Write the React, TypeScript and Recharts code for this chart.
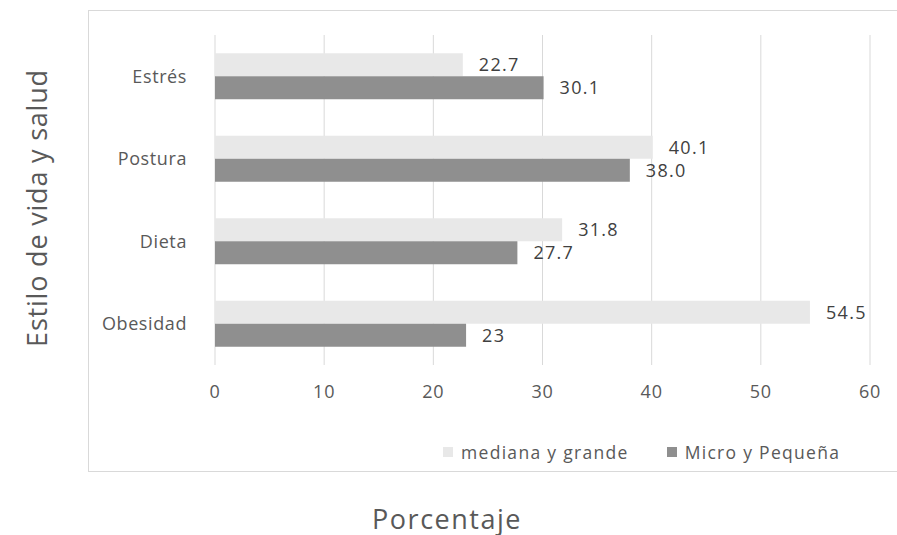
import { BarChart, Bar, XAxis, YAxis, CartesianGrid, LabelList } from "recharts";

const categories = ["Estrés", "Postura", "Dieta", "Obesidad"];
const medianaGrande = [22.7, 40.1, 31.8, 54.5];
const microPequena = [30.1, 38.0, 27.7, 23];
const medianaLabels = ["22.7", "40.1", "31.8", "54.5"];
const microLabels = ["30.1", "38.0", "27.7", "23"];
const xTicks = [0, 10, 20, 30, 40, 50, 60];

const data = categories.map((c, i) => ({
  name: c,
  mediana: medianaGrande[i],
  micro: microPequena[i],
  medianaLabel: medianaLabels[i],
  microLabel: microLabels[i],
}));

const FONT = "'Open Sans', sans-serif";
const TEXT = "#595959";
const LIGHT = "#e8e8e8";
const DARK = "#8f8f8f";

const legendItems = [
  { label: "mediana y grande", color: LIGHT },
  { label: "Micro y Pequeña", color: DARK },
];

function LegendBox() {
  return (
    <div style={{ display: "flex", alignItems: "center", fontSize: 17.5, letterSpacing: 1.3, color: TEXT, fontFamily: FONT }}>
      {legendItems.map((it) => (
        <div key={it.label} style={{ display: "flex", alignItems: "center", marginRight: 38 }}>
          <span style={{ display: "inline-block", width: 10, height: 10, background: it.color, marginRight: 8 }} />
          <span>{it.label}</span>
        </div>
      ))}
    </div>
  );
}

export default function App() {
  return (
    <div style={{ position: "absolute", left: 0, top: 0, width: 897, height: 535, fontFamily: FONT, background: "#fff" }}>
      <div
        style={{
          position: "absolute",
          left: 88,
          top: 10,
          width: 820,
          height: 462,
          border: "1px solid #d9d9d9",
          boxSizing: "border-box",
        }}
      />
      <BarChart
        width={897}
        height={535}
        data={data}
        layout="vertical"
        barGap={0}
        barCategoryGap="22%"
        margin={{ top: 35, right: 27, bottom: 140, left: 100 }}
        style={{ position: "absolute", left: 0, top: 0 }}
      >
        <CartesianGrid horizontal={false} stroke="#d9d9d9" />
        <XAxis
          type="number"
          domain={[0, 60]}
          ticks={xTicks}
          axisLine={false}
          tickLine={false}
          tickMargin={14}
          height={30}
          tick={{ fill: TEXT, fontSize: 18, fontFamily: FONT, letterSpacing: 0.8 }}
        />
        <YAxis
          type="category"
          dataKey="name"
          width={115}
          axisLine={false}
          tickLine={false}
          tickMargin={22}
          tick={{ fill: TEXT, fontSize: 18, fontFamily: FONT, letterSpacing: 0.6 }}
        />
        <Bar dataKey="mediana" name="mediana y grande" fill={LIGHT} isAnimationActive={false}>
          <LabelList dataKey="medianaLabel" position="right" offset={16} fill="#404040" fontSize={18} fontFamily={FONT} letterSpacing={1.3} />
        </Bar>
        <Bar dataKey="micro" name="Micro y Pequeña" fill={DARK} isAnimationActive={false}>
          <LabelList dataKey="microLabel" position="right" offset={16} fill="#404040" fontSize={18} fontFamily={FONT} letterSpacing={1.3} />
        </Bar>
      </BarChart>
      <div style={{ position: "absolute", left: 443, top: 440 }}>
        <LegendBox />
      </div>
      <div
        style={{
          position: "absolute",
          left: 36,
          top: 208,
          transform: "translate(-50%, -50%) rotate(-90deg)",
          whiteSpace: "nowrap",
          fontSize: 27,
          letterSpacing: 0.8,
          color: TEXT,
        }}
      >
        Estilo de vida y salud
      </div>
      <div
        style={{
          position: "absolute",
          left: 447,
          top: 518,
          transform: "translate(-50%, -50%)",
          whiteSpace: "nowrap",
          fontSize: 27,
          letterSpacing: 1.5,
          color: TEXT,
        }}
      >
        Porcentaje
      </div>
    </div>
  );
}
